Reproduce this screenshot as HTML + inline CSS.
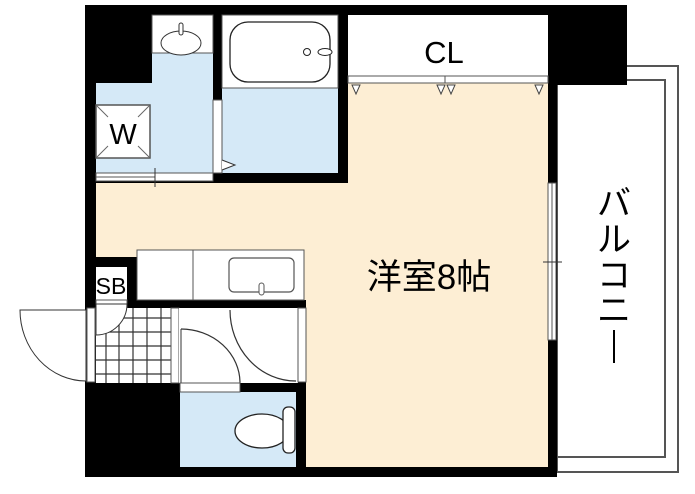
<!DOCTYPE html>
<html><head><meta charset="utf-8"><style>html,body{margin:0;padding:0;background:#fff}svg{display:block}</style></head><body>
<svg width="695" height="494" viewBox="0 0 695 494" xmlns="http://www.w3.org/2000/svg" font-family="'Liberation Sans','Noto Sans CJK JP',sans-serif">
<!-- balcony -->
<rect x="557" y="66" width="121" height="406" fill="#fff" stroke="#555" stroke-width="2"/>
<rect x="557" y="80" width="108" height="377" fill="#fff" stroke="#555" stroke-width="2"/>
<!-- outer black shell -->
<rect x="85" y="5" width="472" height="472" fill="#000"/>
<rect x="548" y="5" width="79" height="80" fill="#000"/>
<!-- main room -->
<rect x="348" y="83" width="200" height="100" fill="#fdeed4"/>
<rect x="96" y="183" width="452" height="74" fill="#fdeed4"/>
<rect x="137" y="257" width="411" height="43" fill="#fdeed4"/>
<rect x="306" y="300" width="242" height="167" fill="#fdeed4"/>
<!-- closet -->
<rect x="348" y="15" width="200" height="61" fill="#fff"/>
<rect x="348" y="76" width="200" height="7" fill="#fff" stroke="#555" stroke-width="1"/>
<line x1="445" y1="76" x2="445" y2="83" stroke="#555"/>
<g fill="#fff" stroke="#444" stroke-width="1">
<path d="M352 85 L360 85 L356 94 Z"/><path d="M437 85 L445 85 L441 94 Z"/><path d="M447 85 L455 85 L451 94 Z"/><path d="M535 85 L543 85 L539 94 Z"/>
</g>
<text x="444" y="63" font-size="31" text-anchor="middle">CL</text>
<!-- wash room -->
<rect x="152" y="15" width="61" height="68" fill="#d5e9f7"/>
<rect x="96" y="83" width="117" height="90" fill="#d5e9f7"/>
<rect x="152" y="15" width="61" height="38" fill="#fff" stroke="#555" stroke-width="1"/>
<ellipse cx="181" cy="43" rx="20" ry="12" fill="#fff" stroke="#333" stroke-width="1"/>
<rect x="179" y="23" width="4" height="12" rx="2" fill="#fff" stroke="#333"/>
<rect x="96" y="105" width="54" height="53" fill="#fff" stroke="#555" stroke-width="1.5"/>
<g stroke="#666" stroke-width="1"><line x1="97" y1="106" x2="108" y2="117"/><line x1="149" y1="106" x2="138" y2="117"/><line x1="97" y1="157" x2="108" y2="146"/><line x1="149" y1="157" x2="138" y2="146"/></g>
<text x="123" y="144" font-size="29" text-anchor="middle">W</text>
<rect x="96" y="173" width="117" height="8" fill="#fff" stroke="#555" stroke-width="1"/>
<line x1="96" y1="177" x2="155" y2="177" stroke="#555"/>
<line x1="155" y1="168" x2="155" y2="187" stroke="#333"/>
<!-- bath -->
<rect x="222" y="15" width="116" height="158" fill="#d5e9f7"/>
<rect x="222" y="15" width="116" height="73" fill="#fff" stroke="#555" stroke-width="1"/>
<rect x="230" y="22" width="100" height="60" rx="18" fill="#fff" stroke="#222" stroke-width="1.3"/>
<circle cx="307" cy="52" r="3.5" fill="#fff" stroke="#222"/>
<ellipse cx="325" cy="52" rx="7" ry="3.5" fill="#fff" stroke="#222"/>
<rect x="213" y="100" width="9" height="73" fill="#fff" stroke="#555" stroke-width="1"/>
<path d="M222 160 L235 165 L222 170" fill="#fff" stroke="#333"/>
<!-- kitchen -->
<rect x="96" y="267" width="31" height="33" fill="#fff"/>
<text x="111" y="294" font-size="23" text-anchor="middle">SB</text>
<rect x="137" y="250" width="167" height="50" fill="#fff" stroke="#555" stroke-width="1"/>
<line x1="193" y1="250" x2="193" y2="300" stroke="#555"/>
<rect x="229" y="258" width="65" height="34" rx="5" fill="#fff" stroke="#555" stroke-width="1.2"/>
<rect x="259" y="283" width="5" height="12" rx="2.5" fill="#fff" stroke="#555"/>
<!-- entrance -->
<rect x="96" y="300" width="31" height="8" fill="#fff" stroke="#555"/>
<rect x="96" y="308" width="75" height="75" fill="#fff"/>
<g stroke="#333" stroke-width="1.2">
<line x1="96" y1="318" x2="171" y2="318"/><line x1="96" y1="332" x2="171" y2="332"/><line x1="96" y1="346" x2="171" y2="346"/><line x1="96" y1="360" x2="171" y2="360"/><line x1="96" y1="374" x2="171" y2="374"/>
<line x1="106" y1="308" x2="106" y2="383"/><line x1="119" y1="308" x2="119" y2="383"/><line x1="133" y1="308" x2="133" y2="383"/><line x1="147" y1="308" x2="147" y2="383"/><line x1="161" y1="308" x2="161" y2="383"/>
</g>
<path d="M96 335 A31 31 0 0 0 127 304 L96 304 Z" fill="#fff" stroke="#333"/>
<rect x="87" y="308" width="8" height="74" fill="#fff" stroke="#555"/>
<path d="M20 310 L86 310 L86 381 A66 71 0 0 1 20 310 Z" fill="#fff" stroke="#333"/>
<rect x="171" y="308" width="8" height="75" fill="#fff" stroke="#555"/>
<rect x="179" y="308" width="119" height="75" fill="#fff"/>
<path d="M181 329 A59 54 0 0 1 240 383" fill="none" stroke="#333" stroke-width="1.2"/>
<line x1="181" y1="329" x2="181" y2="383" stroke="#333"/>
<path d="M230 310 A66 71 0 0 0 296 381" fill="none" stroke="#333" stroke-width="1.2"/>
<rect x="298" y="308" width="8" height="74" fill="#fff" stroke="#555"/>
<!-- toilet -->
<rect x="180" y="392" width="116" height="75" fill="#d5e9f7"/>
<rect x="180" y="383" width="60" height="9" fill="#fff" stroke="#555"/>
<ellipse cx="262" cy="431" rx="27" ry="17" fill="#fff" stroke="#222" stroke-width="1.3"/>
<rect x="283" y="407" width="12" height="46" rx="5" fill="#fff" stroke="#222" stroke-width="1.3"/>
<!-- window -->
<rect x="548" y="183" width="8" height="157" fill="#fff" stroke="#555"/>
<line x1="552" y1="183" x2="552" y2="340" stroke="#555"/>
<line x1="543" y1="262" x2="562" y2="262" stroke="#333"/>
<!-- labels -->
<text x="429" y="289" font-size="35" text-anchor="middle">洋室8帖</text>
<g font-size="34" text-anchor="middle"><text x="614" y="215">バ</text><text x="614" y="251">ル</text><text x="614" y="287">コ</text><text x="614" y="322">ニ</text></g>
<line x1="614" y1="330" x2="614" y2="363" stroke="#000" stroke-width="2"/>
</svg>
</body></html>
